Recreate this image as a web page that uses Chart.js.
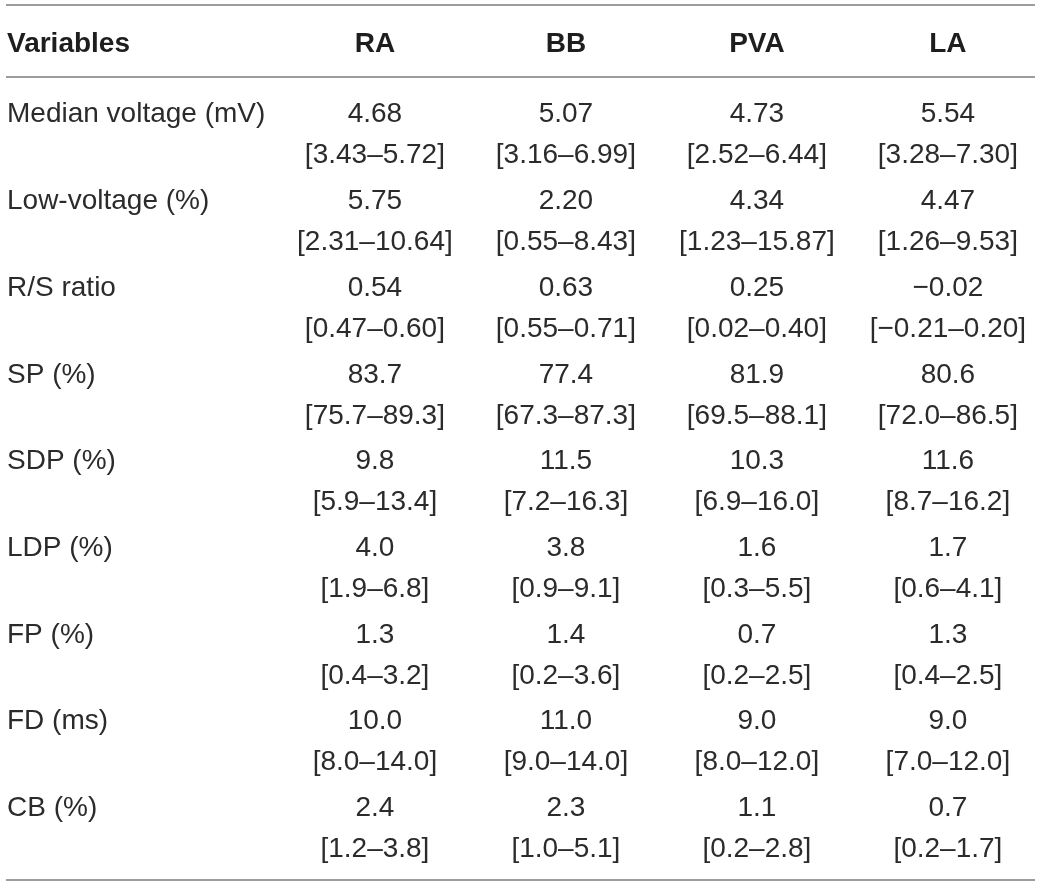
<!DOCTYPE html>
<html>
<head>
<meta charset="utf-8">
<script src="https://cdn.jsdelivr.net/npm/chart.js@4.4.1/dist/chart.umd.min.js"></script>
<style>
  html, body { margin: 0; padding: 0; background: #ffffff; }
  #wrap { width: 1043px; height: 887px; }
</style>
</head>
<body>
<div id="wrap"><canvas id="c" width="1043" height="887"></canvas></div>
<script>
// ---- DATA ----
const headerLabel = "Variables";
const groups = ["RA", "BB", "PVA", "LA"];
const variables = ["Median voltage (mV)", "Low-voltage (%)", "R/S ratio", "SP (%)", "SDP (%)", "LDP (%)", "FP (%)", "FD (ms)", "CB (%)"];
const decimals = [2, 2, 2, 1, 1, 1, 1, 1, 1];

const RA_median = [4.68, 5.75, 0.54, 83.7, 9.8, 4.0, 1.3, 10.0, 2.4];
const RA_q1     = [3.43, 2.31, 0.47, 75.7, 5.9, 1.9, 0.4, 8.0, 1.2];
const RA_q3     = [5.72, 10.64, 0.60, 89.3, 13.4, 6.8, 3.2, 14.0, 3.8];

const BB_median = [5.07, 2.20, 0.63, 77.4, 11.5, 3.8, 1.4, 11.0, 2.3];
const BB_q1     = [3.16, 0.55, 0.55, 67.3, 7.2, 0.9, 0.2, 9.0, 1.0];
const BB_q3     = [6.99, 8.43, 0.71, 87.3, 16.3, 9.1, 3.6, 14.0, 5.1];

const PVA_median = [4.73, 4.34, 0.25, 81.9, 10.3, 1.6, 0.7, 9.0, 1.1];
const PVA_q1     = [2.52, 1.23, 0.02, 69.5, 6.9, 0.3, 0.2, 8.0, 0.2];
const PVA_q3     = [6.44, 15.87, 0.40, 88.1, 16.0, 5.5, 2.5, 12.0, 2.8];

const LA_median = [5.54, 4.47, -0.02, 80.6, 11.6, 1.7, 1.3, 9.0, 0.7];
const LA_q1     = [3.28, 1.26, -0.21, 72.0, 8.7, 0.6, 0.4, 7.0, 0.2];
const LA_q3     = [7.30, 9.53, 0.20, 86.5, 16.2, 4.1, 2.5, 12.0, 1.7];

const medians = [RA_median, BB_median, PVA_median, LA_median];
const q1s = [RA_q1, BB_q1, PVA_q1, LA_q1];
const q3s = [RA_q3, BB_q3, PVA_q3, LA_q3];

// ---- helpers ----
function fmt(v, d) {
  const s = Math.abs(v).toFixed(d);
  return (v < 0 ? "\u2212" : "") + s;
}

const FONT = '"Liberation Sans", Arial, Helvetica, sans-serif';
const TEXT_COLOR = '#2b2b2b';
const RULE_COLOR = '#9c9c9c';

// one scatter dataset per column, points at (column, row)
const datasets = groups.map((g, gi) => ({
  label: g,
  data: variables.map((v, ri) => ({ x: gi + 1, y: ri })),
  pointRadius: 0,
  pointHoverRadius: 0,
  showLine: false
}));
// label column dataset
datasets.unshift({
  label: headerLabel,
  data: variables.map((v, ri) => ({ x: 0, y: ri })),
  pointRadius: 0,
  pointHoverRadius: 0,
  showLine: false
});

const HEADER_ROW = -0.813;
const RULES = [-1.240, -0.4095, 8.853];

const tablePlugin = {
  id: 'tableText',
  afterDatasetsDraw(chart) {
    const ctx = chart.ctx;
    const xs = chart.scales.x, ys = chart.scales.y;
    const area = chart.chartArea;
    const leftX = area.left + 7;
    const capOff = 10;     // baseline offset from cap centre
    const lineGap = 41;    // second line of a cell

    ctx.save();
    // rules
    ctx.strokeStyle = RULE_COLOR;
    ctx.lineWidth = 2;
    RULES.forEach(r => {
      const y = Math.round(ys.getPixelForValue(r)) ;
      ctx.beginPath();
      ctx.moveTo(area.left + 6, y);
      ctx.lineTo(area.right - 8, y);
      ctx.stroke();
    });

    ctx.fillStyle = TEXT_COLOR;
    ctx.textBaseline = 'alphabetic';
    // header
    const hy = ys.getPixelForValue(HEADER_ROW) + capOff;
    ctx.font = 'bold 28px ' + FONT;
    ctx.fillStyle = '#1e1e1e';
    ctx.textAlign = 'left';
    ctx.fillText(headerLabel, leftX, hy);
    ctx.textAlign = 'center';
    groups.forEach((g, gi) => {
      ctx.fillText(g, xs.getPixelForValue(gi + 1), hy);
    });

    // body
    ctx.font = '28px ' + FONT;
    ctx.fillStyle = TEXT_COLOR;
    const labelMeta = chart.getDatasetMeta(0);
    labelMeta.data.forEach((pt, ri) => {
      ctx.textAlign = 'left';
      ctx.fillText(variables[ri], leftX, pt.y + capOff);
    });
    groups.forEach((g, gi) => {
      const meta = chart.getDatasetMeta(gi + 1);
      meta.data.forEach((pt, ri) => {
        const d = decimals[ri];
        ctx.textAlign = 'center';
        ctx.fillText(fmt(medians[gi][ri], d), pt.x, pt.y + capOff);
        const iqr = '[' + fmt(q1s[gi][ri], d) + '\u2013' + fmt(q3s[gi][ri], d) + ']';
        ctx.fillText(iqr, pt.x, pt.y + capOff + lineGap);
      });
    });
    ctx.restore();
  }
};

new Chart(document.getElementById('c'), {
  type: 'scatter',
  data: { datasets },
  options: {
    responsive: false,
    animation: false,
    events: [],
    layout: { padding: 0 },
    plugins: { legend: { display: false }, tooltip: { enabled: false } },
    scales: {
      x: { type: 'linear', display: false, min: -0.963, max: 4.498 },
      y: { type: 'linear', display: false, reverse: true, min: -1.2977, max: 8.934 }
    }
  },
  plugins: [tablePlugin]
});
</script>
</body>
</html>
